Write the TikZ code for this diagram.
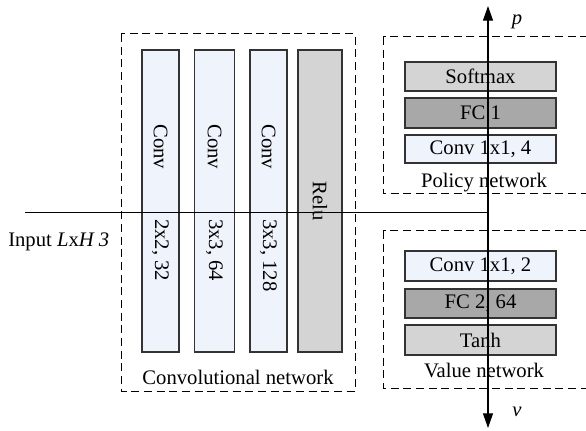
\documentclass[tikz,border=0pt]{standalone}
\usepackage{fontspec}
\setmainfont{Liberation Serif}
\usetikzlibrary{arrows.meta}
\definecolor{lblue}{HTML}{EFF3FB}
\definecolor{lgray}{HTML}{D4D4D4}
\definecolor{dgray}{HTML}{A8A8A8}
\definecolor{edge}{HTML}{333333}
\tikzset{
  lay/.style={draw=edge, line width=0.9pt, inner sep=0pt, outer sep=0pt},
  group/.style={draw=black, line width=0.75pt, dash pattern=on 6pt off 3.5pt},
  txt/.style={font=\fontsize{15.5}{18}\selectfont, inner sep=0pt},
  vtxt/.style={txt, rotate=-90},
  biarrow/.style={line width=0.9pt, {Triangle[length=11pt,width=7.5pt]}-{Triangle[length=11pt,width=7.5pt]}},
}
\begin{document}
\begin{tikzpicture}[x=0.75pt,y=-0.75pt]
\clip (0,0) rectangle (586,431);
% group boxes
\draw[group] (121,34) rectangle (355,391);
\draw[group] (383,37) rectangle (620,194);
\draw[group] (383,231) rectangle (620,388);
% conv layers
\node[lay, fill=lblue, minimum width=37*0.75pt, minimum height=302*0.75pt] (c1) at (160.5,201) {};
\node[lay, fill=lblue, minimum width=40*0.75pt, minimum height=302*0.75pt] (c2) at (214.5,201) {};
\node[lay, fill=lblue, minimum width=37*0.75pt, minimum height=302*0.75pt] (c3) at (268.5,201) {};
\node[lay, fill=lgray, minimum width=44*0.75pt, minimum height=302*0.75pt] (relu) at (320,201) {};
\node[vtxt, anchor=west] (c1a) at (160.5,124) {Conv};
\node[vtxt, anchor=west] (c2a) at (214.5,124) {Conv};
\node[vtxt, anchor=west] (c3a) at (268.5,124) {Conv};
\node[vtxt, anchor=west] (c1b) at (160.5,219) {2x2, 32};
\node[vtxt, anchor=west] (c2b) at (214.5,219) {3x3, 64};
\node[vtxt, anchor=west] (c3b) at (268.5,219) {3x3, 128};
\node[vtxt] (relut) at (320,201) {Relu};
% policy layers
\node[lay, fill=lgray, minimum width=151*0.75pt, minimum height=29*0.75pt, txt] (soft) at (480.5,76.5) {Softmax};
\node[lay, fill=dgray, minimum width=151*0.75pt, minimum height=30*0.75pt, txt] (fc1) at (480.5,113) {FC 1};
\node[lay, fill=lblue, minimum width=151*0.75pt, minimum height=28*0.75pt, txt] (pconv) at (480.5,149) {Conv 1x1, 4};
% value layers
\node[lay, fill=lblue, minimum width=151*0.75pt, minimum height=30*0.75pt, txt] (vconv) at (480.5,266) {Conv 1x1, 2};
\node[lay, fill=dgray, minimum width=151*0.75pt, minimum height=29*0.75pt, txt] (fc2) at (480.5,303.5) {FC 2, 64};
\node[lay, fill=lgray, minimum width=151*0.75pt, minimum height=30*0.75pt, txt] (tanh) at (480.5,340) {Tanh};
% labels
\node[txt] (convlbl) at (238,377) {Convolutional network};
\node[txt] (pollbl) at (484,183) {Policy network};
\node[txt] (vallbl) at (484,370) {Value network};
\node[txt, anchor=west] (inlbl) at (8,242) {Input \textit{L}x\textit{H 3}};
\node[txt] (plbl) at (517,22) {\textit{p}};
\node[txt] (vlbl) at (517,412) {\textit{ν}};
% connectors
\coordinate (inS) at (25,213);
\coordinate (junc) at (488,213);
\coordinate (top) at (488,6);
\coordinate (bot) at (488,428);
\draw[line width=0.75pt] (inS) -- (junc);
\draw[biarrow] (top) -- (bot);
\end{tikzpicture}
\end{document}
